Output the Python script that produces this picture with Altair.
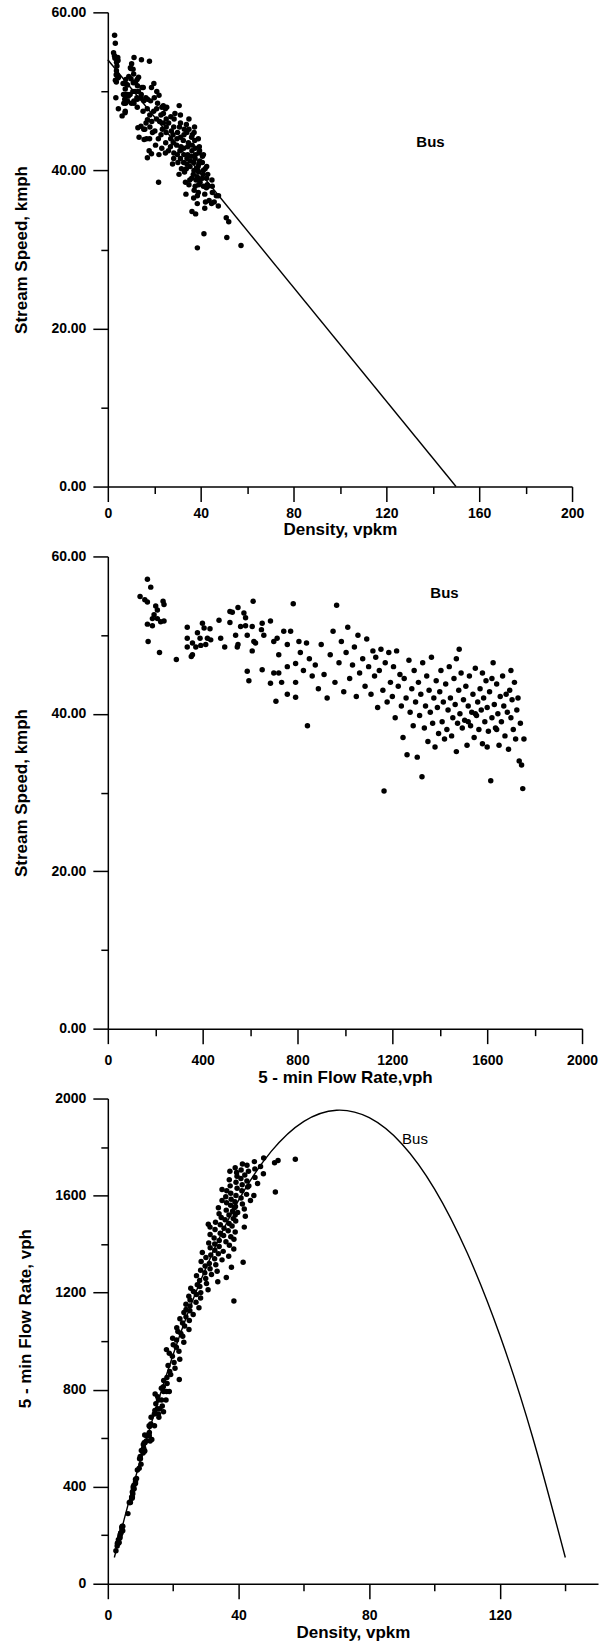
import altair as alt
import pandas as pd

# Five-minute bus stream observations: flow rate (vph) and stream speed (kmph)
flow = [
    167, 181, 136, 156, 167, 233, 237, 202, 209, 195, 188, 209, 237, 223, 167, 188,
    170, 218, 289, 352, 335, 378, 399, 406, 431, 335, 357, 371, 389, 420, 434, 392,
    413, 476, 493, 335, 357, 469, 515, 525, 549, 515, 574, 581, 613, 560, 539, 588,
    581, 549, 546, 609, 616, 623, 609, 651, 648, 658, 686, 588, 595, 651, 686, 700,
    721, 733, 709, 757, 757, 792, 792, 721, 700, 714, 742, 757, 771, 782, 792, 806,
    812, 825, 838, 850, 862, 875, 888, 900, 912, 925, 938, 950, 958, 965, 975, 985,
    995, 1005, 1012, 1020, 1032, 1040, 1048, 1055, 1062, 1075, 1085, 1092, 1100,
    1110, 1118, 1125, 1130, 1138, 1145, 1152, 1160, 1165, 1170, 1178, 1185, 1192,
    1200, 1205, 1212, 1218, 1225, 1232, 1238, 1245, 1250, 1258, 1262, 1270, 1275,
    1282, 1288, 1292, 1298,
    1305, 1310, 1315, 1320, 1325, 1328, 1335, 1340, 1345, 1350, 1355, 1360, 1365,
    1370, 1375, 1380, 1385, 1390, 1395, 1400, 1405, 1410, 1415, 1420, 1425, 1430,
    1435, 1440, 1445, 1450, 1455, 1460, 1465, 1470, 1475, 1480, 1485, 1490, 1495,
    1500, 1482, 1470,
    1505, 1510, 1515, 1520, 1525, 1530, 1535, 1540, 1545, 1550, 1555, 1560, 1565,
    1570, 1575, 1580, 1585, 1590, 1595, 1600, 1605, 1610, 1615, 1620, 1625, 1630,
    1635, 1640, 1645, 1650, 1655, 1660, 1665, 1670, 1675, 1680, 1685, 1690, 1695,
    1700, 1705, 1710, 1715, 1720, 1725, 1730, 1735, 1740, 1745, 1750, 1755, 1620,
    1580, 1550, 1520, 1600, 1640, 1700, 842,
]
speed = [
    57.1, 56.1, 54.9, 54.5, 54.2, 54.3, 53.9, 53.7, 53.2, 52.6, 52.1, 52.1, 51.8, 51.7, 51.4, 51.2,
    49.2, 47.8, 46.9, 47.3, 51.0, 50.3, 51.5, 50.9, 50.8, 49.6, 49.0, 48.5, 49.6, 49.6, 49.4, 48.7,
    48.8, 49.6, 48.5, 48.5, 47.5, 51.9, 53.0, 52.9, 53.5, 51.6, 52.8, 52.2, 54.3, 51.1, 50.0, 50.0,
    51.2, 48.8, 48.5, 51.1, 49.2, 49.0, 48.0, 51.5, 50.7, 50.0, 51.8, 45.4, 44.2, 45.6, 43.9, 45.2,
    45.2, 44.0, 41.6, 46.0, 42.5, 42.1, 44.0, 47.5, 49.2, 49.6, 50.5, 48.8, 50.5, 54.0, 46.4, 49.2,
    47.8, 45.5, 49.0, 47.0, 44.8, 46.2, 43.2, 48.8, 45.0, 42.0, 47.5, 50.5, 44.0, 53.8, 46.5, 49.2,
    42.8, 47.8, 51.0, 44.5, 46.2, 48.5, 42.2, 50.0, 45.2, 47.0, 43.5, 49.5, 46.0,
    42.5, 48.0, 44.8, 47.2, 40.8, 45.5, 48.2, 43.0, 30.2, 46.5, 41.5, 47.8, 44.0,
    42.2, 46.0, 39.5, 48.0, 43.5, 45.0, 41.0, 37.0, 44.5, 42.0, 34.8, 46.8, 40.2,
    43.2, 38.5, 45.5, 41.5,
    34.5, 44.0, 39.8, 42.5, 32.0, 46.5, 38.2, 41.0, 44.8, 36.5, 43.0, 40.2, 47.2,
    38.8, 42.0, 35.8, 44.2, 40.8, 37.5, 42.8, 45.5, 39.0, 41.5, 36.8, 43.8, 38.0,
    40.5, 46.0, 42.0, 37.2, 39.5, 44.5, 41.2, 35.2, 38.8, 43.0, 40.0, 45.2, 38.2,
    41.8, 48.2, 47.0,
    39.2, 43.5, 36.0, 41.0, 44.8, 38.5, 40.2, 42.5, 37.0, 45.8, 39.8, 41.5, 38.0,
    43.2, 40.5, 36.2, 42.0, 39.0, 44.2, 40.8, 37.8, 42.8, 31.5, 39.5, 46.5, 41.2,
    38.2, 43.8, 40.0, 36.0, 42.2, 39.0, 44.8, 41.0, 37.2, 42.5, 40.2, 35.5, 43.0,
    39.5, 41.8, 38.0, 44.0, 36.8, 40.5, 42.0, 34.0, 38.8, 33.5, 30.5, 36.8, 44.5,
    45.2, 40.0, 39.0, 35.8, 38.0, 45.5, 38.5,
]

# density follows from the fundamental relation k = q / v
density = [round(q / v, 2) for q, v in zip(flow, speed)]
obs = pd.DataFrame({"density": density, "speed": speed, "flow": flow})

# Greenshields speed-density line: free speed 54 kmph, jam density 150 vpkm
sd_density = [0, 150]
sd_speed = [54.0, 0.0]
sd_line = pd.DataFrame({"k": sd_density, "v": sd_speed})

# matching parabolic flow-density curve
fd_density = [2, 5, 10, 20, 30, 40, 50, 60, 70, 80, 90, 100, 110, 120, 130, 140]
fd_flow = [108, 265, 511, 945, 1301, 1580, 1782, 1906, 1952, 1921, 1813, 1627, 1363, 1023, 604, 108]
fd_line = pd.DataFrame({"k": fd_density, "q": fd_flow})

# "Bus" annotation anchors in data units
lab1 = pd.DataFrame({"x": [139], "y": [43.6], "t": ["Bus"]})
lab2 = pd.DataFrame({"x": [1420], "y": [55.3], "t": ["Bus"]})
lab3 = pd.DataFrame({"x": [94], "y": [1835], "t": ["Bus"]})

FONT = "Liberation Sans"


def major_axis(orient, values, title, fmt, label_pad, title_pad, **extra):
    return alt.Axis(
        orient=orient, values=values, title=title, format=fmt,
        tickSize=15, labelPadding=label_pad, titlePadding=title_pad,
        labelFlush=False, labelOverlap=False, grid=False, **extra,
    )


def minor_axis(orient, values):
    return alt.Axis(
        orient=orient, values=values, title=None, labels=False,
        domain=False, tickSize=7, grid=False,
    )


def panel(xf, yf, xdom, ydom, xmaj, xmin, ymaj, ymin, xtitle, ytitle, yfmt,
          label_df, label_weight, line_df, lx, ly, interp, w, h, xlabpad,
          xtitlepad, **yextra):
    xs = alt.Scale(domain=xdom, nice=False, zero=False)
    ys = alt.Scale(domain=ydom, nice=False, zero=False)
    yax = major_axis("left", ymaj, ytitle, yfmt, 7, 20, **yextra)
    xax = major_axis("bottom", xmaj, xtitle, "d", xlabpad, xtitlepad)
    pts = alt.Chart(obs).mark_circle(size=30, color="black", opacity=1).encode(
        x=alt.X(xf, type="quantitative", scale=xs, axis=xax),
        y=alt.Y(yf, type="quantitative", scale=ys, axis=yax),
    )
    txt = alt.Chart(label_df).mark_text(
        font=FONT, fontSize=15, fontWeight=label_weight, color="black",
        align="center", baseline="middle",
    ).encode(
        x=alt.X("x:Q", scale=xs, axis=minor_axis("bottom", xmin)),
        y=alt.Y("y:Q", scale=ys, axis=minor_axis("left", ymin)),
        text="t:N",
    )
    layers = []
    if line_df is not None:
        layers.append(
            alt.Chart(line_df).mark_line(color="black", strokeWidth=1.4, interpolate=interp).encode(
                x=alt.X(f"{lx}:Q", scale=xs, axis=None),
                y=alt.Y(f"{ly}:Q", scale=ys, axis=None),
            )
        )
    layers += [pts, txt]
    return alt.layer(*layers).resolve_axis(x="independent", y="independent").properties(
        width=w, height=h
    )


p1 = panel(
    "density", "speed", [0, 200], [0, 60],
    [0, 40, 80, 120, 160, 200], [20, 60, 100, 140, 180],
    [0, 20, 40, 60], [10, 30, 50],
    "Density, vpkm", "Stream Speed, kmph", ".2f",
    lab1, "bold", sd_line, "k", "v", "linear", 465, 475, 5, 1,
)
p2 = panel(
    "flow", "speed", [0, 2000], [0, 60],
    [0, 400, 800, 1200, 1600, 2000], [200, 600, 1000, 1400, 1800],
    [0, 20, 40, 60], [10, 30, 50],
    "5 - min Flow Rate,vph", "Stream Speed, kmph", ".2f",
    lab2, "bold", None, None, None, "linear", 475, 473, 10, 2,
)
p3 = panel(
    "density", "flow", [0, 150], [0, 2000],
    [0, 40, 80, 120], [20, 60, 100, 140],
    [0, 400, 800, 1200, 1600, 2000], [200, 600, 1000, 1400, 1800],
    "Density, vpkm", "5 - min Flow Rate, vph", "d",
    lab3, "normal", fd_line, "k", "q", "natural", 491, 486, 10, 2, titleY=220,
)

chart = alt.vconcat(p1, p2, p3, spacing=70, bounds="flush").properties(
    padding={"left": 12, "top": 3, "right": 0, "bottom": 0},
    background="white",
).configure_view(stroke="transparent").configure_axis(
    labelFont=FONT, labelFontSize=14, labelFontWeight="bold", labelColor="black",
    titleFont=FONT, titleFontSize=17, titleFontWeight="bold", titleColor="black",
    domainColor="black", domainWidth=1.5, tickColor="black", tickWidth=1.5,
)

chart.save("out.html", embed_options={"renderer": "svg", "actions": False})
